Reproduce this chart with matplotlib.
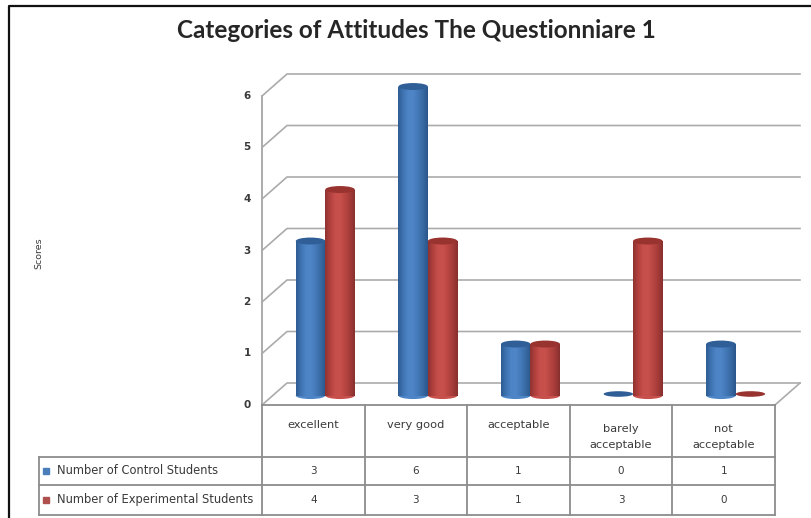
import numpy as np
import matplotlib
matplotlib.use("Agg")
import matplotlib.pyplot as plt
from matplotlib.patches import Ellipse
from matplotlib.colors import LinearSegmentedColormap

categories = ["excellent", "very good", "acceptable", "barely\nacceptable", "not\nacceptable"]
control = [3, 6, 1, 0, 1]
experimental = [4, 3, 1, 3, 0]
series_names = ["Number of Control Students", "Number of Experimental Students"]
title = "Categories of Attitudes The Questionniare 1"
ylabel = "Scores"

W, H = 812, 518
fig = plt.figure(figsize=(W / 100, H / 100), dpi=100, facecolor="white")
L, R, T, B = 262, 775, 96, 405
ax = fig.add_axes([L / W, 1 - B / H, (R - L) / W, (B - T) / H])
ax.set_xlim(0, 5)
ax.set_ylim(0, 6)
ax.axis("off")

px = 5 / (R - L)
py = 6 / (B - T)
dx, dy = 25 * px, 22 * py
grid = "#ababab"
txt = "#3a3a3a"
for v in range(7):
    ax.plot([0, dx, 5 + dx], [v, v + dy, v + dy], color=grid, lw=1.2, clip_on=False, zorder=1)
ax.plot([0, 0], [0, 6], color=grid, lw=1.4, clip_on=False, zorder=1)
ax.plot([5, 5 + dx], [0, dy], color=grid, lw=1.2, clip_on=False, zorder=1)
for v in range(7):
    ax.text(-15 * px, v, str(v), ha="center", va="center", fontsize=7.5, fontweight="bold", color=txt)
ax.text(-223 * px, 2.95, ylabel, rotation=90, ha="center", va="center", fontsize=6.8, color=txt)

blue = LinearSegmentedColormap.from_list("b", ["#2e5c92", "#3f74b3", "#4c84c6", "#4f86c7", "#4479b8", "#386aa3", "#2b568c"])
red = LinearSegmentedColormap.from_list("r", ["#8f3331", "#b2413e", "#c64f4b", "#c9514d", "#b94642", "#a63c39", "#88302e"])
grad = np.linspace(0, 1, 64).reshape(1, -1)
bw = 29.5 * px
eh = 7 * py


def cylinder(xc, val, cmap, top, order):
    base = dy / 2 - 0.03
    x0, x1 = xc - bw / 2, xc + bw / 2
    if val > 0:
        ax.imshow(grad, cmap=cmap, extent=(x0, x1, base, base + val), aspect="auto",
                  zorder=order, clip_on=False)
        ax.add_patch(Ellipse((xc, base), bw, eh, facecolor=cmap(0.4), edgecolor="none",
                             zorder=order - 0.1, clip_on=False))
        ax.add_patch(Ellipse((xc, base + val), bw, eh, facecolor=top, edgecolor="none",
                             zorder=order + 0.1, clip_on=False))
    else:
        ax.add_patch(Ellipse((xc, base + 0.03), bw, eh * 0.8, facecolor=top, edgecolor="none",
                             zorder=order, clip_on=False))


for i in range(len(categories)):
    c = i + 0.5 + dx / 2 - 0.005
    cylinder(c - bw / 2, control[i], blue, "#305f98", 3 + i * 0.01)
    cylinder(c + bw / 2, experimental[i], red, "#98332f", 4 + i * 0.01)
ax.set_xlim(0, 5)
ax.set_ylim(0, 6)

# data table
tline = "#8c8c8c"
rows = [0, -52 * py, -80 * py, -110 * py]
left = -223 * px
for yy in rows:
    ax.plot([0 if yy == 0 else left, 5], [yy, yy], color=tline, lw=1.3, clip_on=False)
ax.plot([left, left], [rows[1], rows[3]], color=tline, lw=1.3, clip_on=False)
for k in range(6):
    ax.plot([k, k], [0, rows[3]], color=tline, lw=1.3, clip_on=False)
for i, cat in enumerate(categories):
    ax.text(i + 0.5, -20 * py if "\n" not in cat else -32 * py, cat,
            ha="center", va="center", fontsize=8.2, linespacing=1.8, color=txt, clip_on=False)
    ax.text(i + 0.5, (rows[1] + rows[2]) / 2, str(control[i]), ha="center", va="center",
            fontsize=7.5, color=txt)
    ax.text(i + 0.5, (rows[2] + rows[3]) / 2, str(experimental[i]), ha="center", va="center",
            fontsize=7.5, color=txt)
for name, yy, col in zip(series_names, [(rows[1] + rows[2]) / 2, (rows[2] + rows[3]) / 2], ["#4a7ebb", "#b0504e"]):
    ax.plot([left + 7 * px], [yy], marker="s", ms=5, color=col, clip_on=False)
    ax.text(left + 18 * px, yy, name, ha="left", va="center", fontsize=8.3, color=txt)

fig.text(416 / W, 1 - 31 / H, title, ha="center", va="center", fontsize=17.5, fontweight="bold",
         family="Lato", color="#262626")
# outer frame
fig.add_artist(plt.Line2D([9 / W, 9 / W, 1], [0, 1 - 6 / H, 1 - 6 / H], color="#111111", lw=1.6))
fig.savefig("out.png", dpi=100)
